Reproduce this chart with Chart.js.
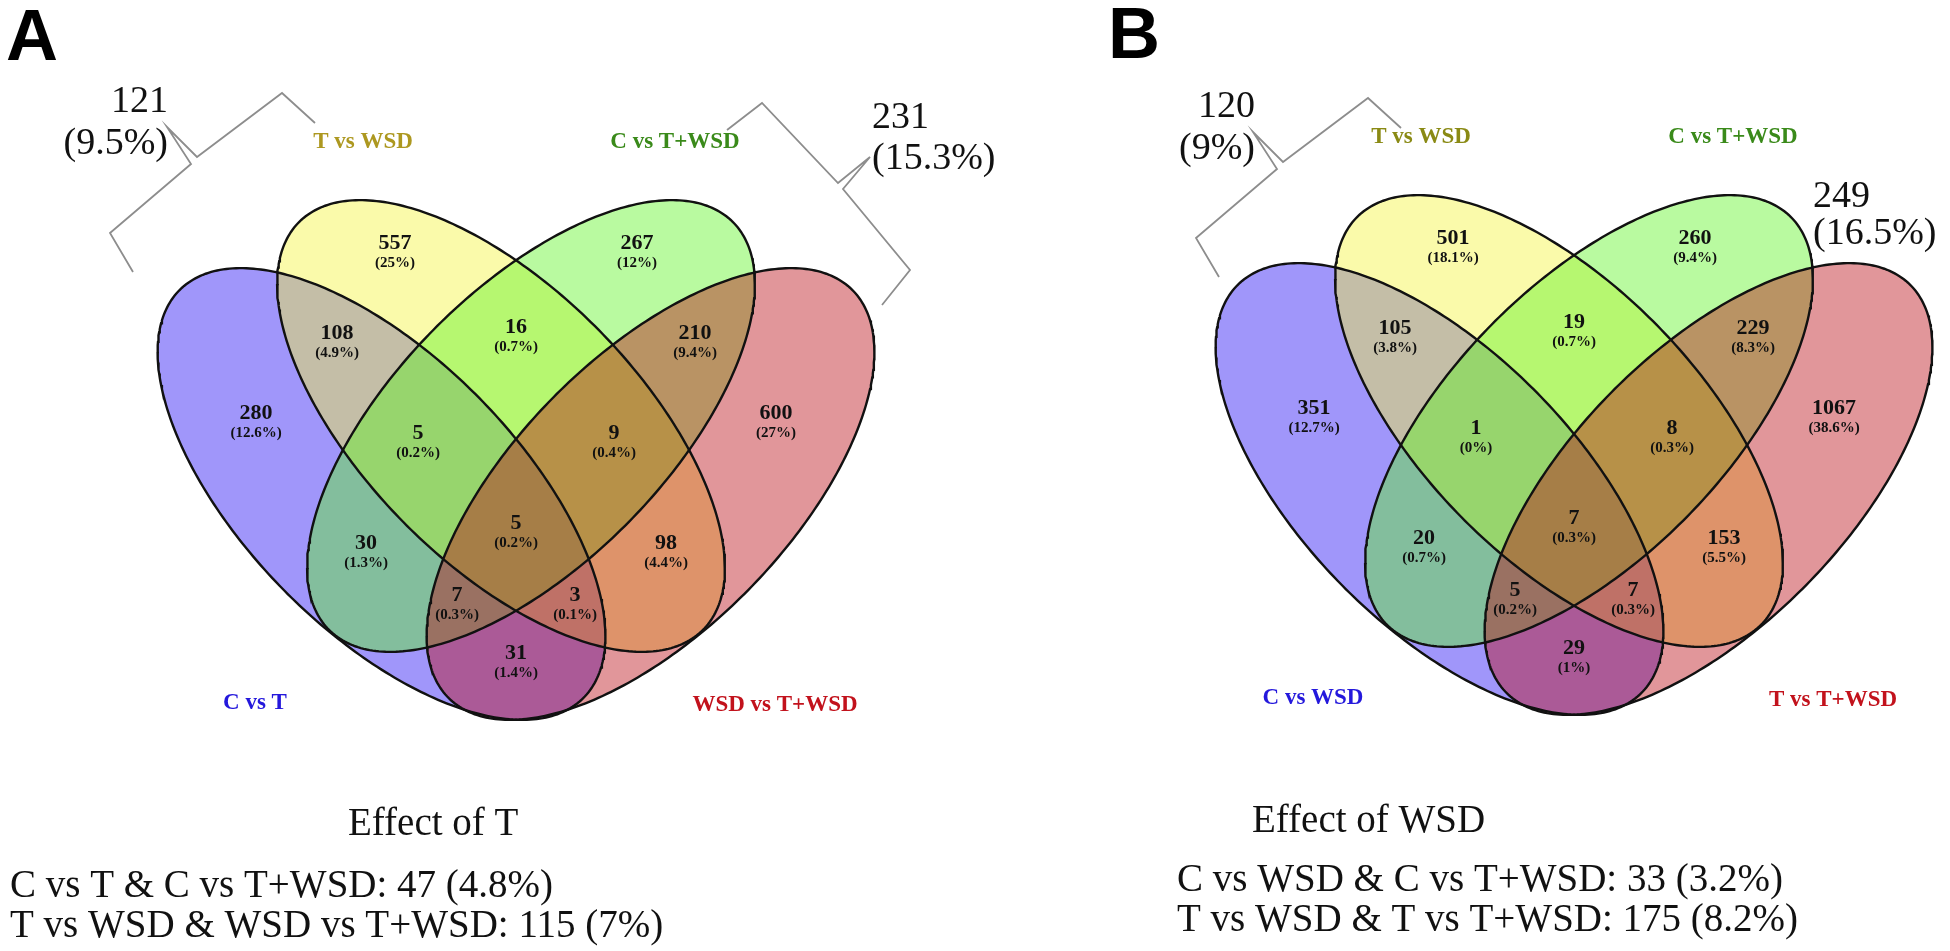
<!DOCTYPE html>
<html lang="en">
<head>
  <meta charset="UTF-8">
  <title>Effect of T / Effect of WSD</title>
  <script src="https://cdn.jsdelivr.net/npm/chart.js"></script>
  <style>
    html, body { margin: 0; padding: 0; background: #fff; }
    canvas { display: block; }
  </style>
</head>
<body>
  <canvas id="chart" width="1950" height="951"></canvas>
  <script>
    // region keys: 1 = first set (blue), 2 = yellow, 3 = green, 4 = red
    const regions = ['1', '2', '3', '4', '12', '23', '34', '123', '234', '13', '24', '1234', '134', '124', '14'];

    const setsA = ['C vs T', 'T vs WSD', 'C vs T+WSD', 'WSD vs T+WSD'];
    const countsA = [280, 557, 267, 600, 108, 16, 210, 5, 9, 30, 98, 5, 7, 3, 31];
    const pctA = [12.6, 25, 12, 27, 4.9, 0.7, 9.4, 0.2, 0.4, 1.3, 4.4, 0.2, 0.3, 0.1, 1.4];
    const braceCountsA = [121, 231];
    const bracePctA = [9.5, 15.3];
    const titleA = 'Effect of T';
    const pairsA = ['C vs T & C vs T+WSD', 'T vs WSD & WSD vs T+WSD'];
    const pairCountsA = [47, 115];
    const pairPctA = [4.8, 7];

    const setsB = ['C vs WSD', 'T vs WSD', 'C vs T+WSD', 'T vs T+WSD'];
    const countsB = [351, 501, 260, 1067, 105, 19, 229, 1, 8, 20, 153, 7, 5, 7, 29];
    const pctB = [12.7, 18.1, 9.4, 38.6, 3.8, 0.7, 8.3, 0, 0.3, 0.7, 5.5, 0.3, 0.2, 0.3, 1];
    const braceCountsB = [120, 249];
    const bracePctB = [9, 16.5];
    const titleB = 'Effect of WSD';
    const pairsB = ['C vs WSD & C vs T+WSD', 'T vs WSD & T vs T+WSD'];
    const pairCountsB = [33, 175];
    const pairPctB = [3.2, 8.2];

    // ---- layout (panel A coordinates, panel B is the same diagram shifted) ----
    const AXIS = 516;
    const SEMI_A = 287, SEMI_B = 137;
    const ellipseGeom = [
      { cx: AXIS - 134.5, cy: 494, rot: 45.4 },   // blue
      { cx: AXIS - 15, cy: 426, rot: 45.4 },      // yellow
      { cx: AXIS + 15, cy: 426, rot: -45.4 },     // green
      { cx: AXIS + 134.5, cy: 494, rot: -45.4 }   // red
    ];
    const fillColors = ['rgba(34,11,243,0.43)', 'rgba(243,243,57,0.43)', 'rgba(92,243,34,0.43)', 'rgba(185,11,22,0.43)'];
    const regionPos = {
      '1': [256, 413], '2': [395, 243], '3': [637, 243], '4': [776, 413],
      '12': [337, 333], '23': [516, 327], '34': [695, 333],
      '123': [418, 433], '234': [614, 433],
      '13': [366, 543], '24': [666, 543], '1234': [516, 523],
      '134': [457, 595], '124': [575, 595], '14': [516, 653]
    };
    const setLabelPos = [[255, 703], [363, 142], [675, 142], [775, 705]];
    const panels = [
      {
        dx: 0, dy: 0, sets: setsA, counts: countsA, pct: pctA,
        setColors: ['#2418dc', '#ad9820', '#3a8a1a', '#c2121c'],
        letter: 'A', letterPos: [6, 60],
        braces: [
          [[133, 272], [110, 233], [191, 164], [167, 127], [197, 157], [282, 93], [315, 123]],
          [[727, 130], [762, 103], [838, 183], [870, 157], [843, 189], [910, 270], [882, 305]]
        ],
        braceText: [
          { align: 'right', x: 168, y: [112, 154] },
          { align: 'left', x: 872, y: [128, 169] }
        ],
        braceCounts: braceCountsA, bracePct: bracePctA,
        title: titleA, titlePos: [348, 835],
        pairs: pairsA, pairCounts: pairCountsA, pairPct: pairPctA, pairPos: [10, 897, 937]
      },
      {
        dx: 1058, dy: -5, sets: setsB, counts: countsB, pct: pctB,
        setColors: ['#2418dc', '#8a8a14', '#3a8a1a', '#c2121c'],
        letter: 'B', letterPos: [1108, 58],
        braces: [
          [[1219, 277], [1196, 238], [1277, 169], [1253, 132], [1283, 162], [1368, 98], [1401, 128]]
        ],
        braceText: [
          { align: 'right', x: 1255, y: [117, 159] },
          { align: 'left', x: 1813, y: [207, 244] }
        ],
        braceCounts: braceCountsB, bracePct: bracePctB,
        title: titleB, titlePos: [1252, 832],
        pairs: pairsB, pairCounts: pairCountsB, pairPct: pairPctB, pairPos: [1177, 891, 931]
      }
    ];

    // two x-monotonic halves of an ellipse outline
    function ellipseArcs(g, dx, dy) {
      const th = g.rot * Math.PI / 180;
      const phi = Math.atan2(-SEMI_B * Math.sin(th), SEMI_A * Math.cos(th));
      const pt = t => ({
        x: g.cx + dx + SEMI_A * Math.cos(t) * Math.cos(th) - SEMI_B * Math.sin(t) * Math.sin(th),
        y: g.cy + dy + SEMI_A * Math.cos(t) * Math.sin(th) + SEMI_B * Math.sin(t) * Math.cos(th)
      });
      const n = 160, arc1 = [], arc2 = [];
      for (let i = 0; i <= n; i++) {
        arc1.push(pt(phi + Math.PI * i / n));
        arc2.push(pt(phi + Math.PI + Math.PI * i / n));
      }
      arc1.sort((p, q) => p.x - q.x);
      arc2.sort((p, q) => p.x - q.x);
      return [arc1, arc2];
    }

    const datasets = [];
    panels.forEach(p => {
      // red drawn on top, blue first: filler paints highest index first
      [3, 2, 1, 0].forEach(k => {
        const [arc1, arc2] = ellipseArcs(ellipseGeom[k], p.dx, p.dy);
        datasets.push({ data: arc1, fill: false, borderColor: '#111', borderWidth: 2.4, pointRadius: 0 });
        datasets.push({ data: arc2, fill: '-1', backgroundColor: fillColors[k], borderColor: '#111', borderWidth: 2.4, pointRadius: 0 });
      });
      p.braces.forEach(b => {
        datasets.push({ data: b.map(([x, y]) => ({ x, y })), fill: false, borderColor: '#8d8d8d', borderWidth: 1.8, pointRadius: 0 });
      });
    });

    const textPlugin = {
      id: 'vennText',
      afterDatasetsDraw(chart) {
        const { ctx, scales: { x, y } } = chart;
        const put = (txt, vx, vy, font, color, align, base) => {
          ctx.font = font;
          ctx.fillStyle = color;
          ctx.textAlign = align;
          ctx.textBaseline = base;
          ctx.fillText(txt, x.getPixelForValue(vx), y.getPixelForValue(vy));
        };
        ctx.save();
        panels.forEach(p => {
          put(p.letter, p.letterPos[0], p.letterPos[1], 'bold 72px "Liberation Sans"', '#000', 'left', 'alphabetic');
          regions.forEach((r, i) => {
            const [rx, ry] = regionPos[r];
            put(String(p.counts[i]), rx + p.dx, ry + p.dy, 'bold 22px "Liberation Serif"', '#111', 'center', 'middle');
            put('(' + p.pct[i] + '%)', rx + p.dx, ry + p.dy + 20, 'bold 15px "Liberation Serif"', '#111', 'center', 'middle');
          });
          p.sets.forEach((s, i) => {
            const [sx, sy] = setLabelPos[i];
            put(s, sx + p.dx, sy + p.dy, 'bold 23px "Liberation Serif"', p.setColors[i], 'center', 'middle');
          });
          p.braceText.forEach((bt, i) => {
            put(String(p.braceCounts[i]), bt.x, bt.y[0], '38px "Liberation Serif"', '#111', bt.align, 'alphabetic');
            put('(' + p.bracePct[i] + '%)', bt.x, bt.y[1], '38px "Liberation Serif"', '#111', bt.align, 'alphabetic');
          });
          put(p.title, p.titlePos[0], p.titlePos[1], '39px "Liberation Serif"', '#111', 'left', 'alphabetic');
          p.pairs.forEach((s, i) => {
            put(s + ': ' + p.pairCounts[i] + ' (' + p.pairPct[i] + '%)', p.pairPos[0], p.pairPos[1 + i],
              '39px "Liberation Serif"', '#111', 'left', 'alphabetic');
          });
        });
        ctx.restore();
      }
    };

    new Chart(document.getElementById('chart').getContext('2d'), {
      type: 'line',
      data: { datasets },
      options: {
        responsive: false,
        devicePixelRatio: 1,
        animation: false,
        layout: { padding: 0 },
        elements: { line: { tension: 0 } },
        scales: {
          x: { type: 'linear', min: 0, max: 1950, display: false },
          y: { type: 'linear', min: 0, max: 951, reverse: true, display: false }
        },
        plugins: {
          legend: { display: false },
          tooltip: { enabled: false },
          filler: { drawTime: 'beforeDatasetsDraw' }
        }
      },
      plugins: [textPlugin]
    });
  </script>
</body>
</html>
